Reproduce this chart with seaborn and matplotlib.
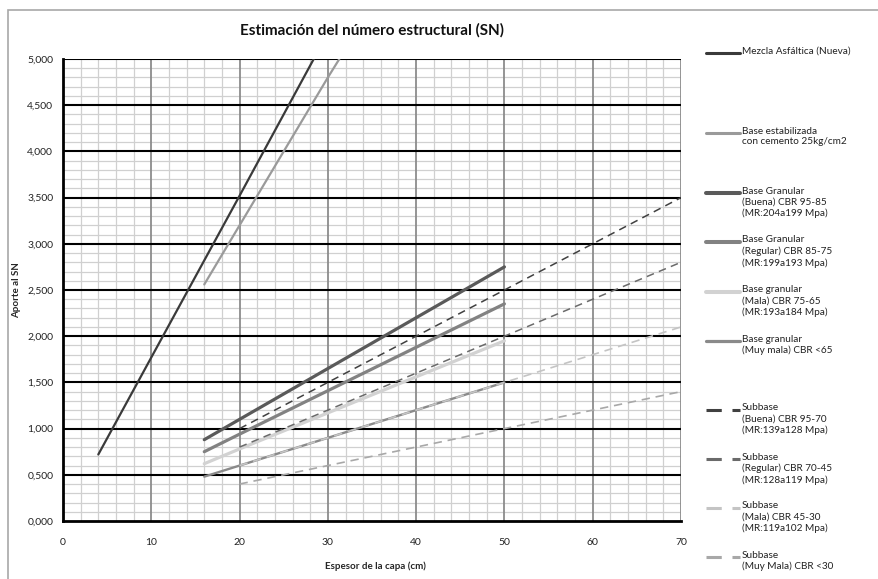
import matplotlib
matplotlib.use("Agg")
import matplotlib.pyplot as plt
import seaborn as sns
import pandas as pd
from matplotlib.ticker import MultipleLocator, FuncFormatter
from matplotlib.lines import Line2D
from matplotlib.patches import Rectangle

# ---------------- data ----------------
x_mezcla = [4, 10, 20, 28.4]
y_mezcla = [0.72, 1.77, 3.52, 5.00]

x_base_estab = [16, 20, 30, 31.3]
y_base_estab = [2.56, 3.20, 4.80, 5.00]

x_base = [16, 20, 30, 40, 50]
y_base_buena = [0.88, 1.10, 1.65, 2.20, 2.75]
y_base_regular = [0.75, 0.94, 1.41, 1.88, 2.35]
y_base_mala = [0.62, 0.78, 1.17, 1.56, 1.95]
y_base_muymala = [0.48, 0.60, 0.90, 1.20, 1.50]

x_subbase = [20, 30, 40, 50, 60, 70]
y_sub_buena = [1.0, 1.5, 2.0, 2.5, 3.0, 3.5]
y_sub_regular = [0.8, 1.2, 1.6, 2.0, 2.4, 2.8]
y_sub_mala = [0.6, 0.9, 1.2, 1.5, 1.8, 2.1]
y_sub_muymala = [0.4, 0.6, 0.8, 1.0, 1.2, 1.4]

labels = [
    "Mezcla Asfáltica (Nueva)",
    "Base estabilizada\ncon cemento 25kg/cm2",
    "Base Granular\n(Buena) CBR 95-85\n(MR:204a199 Mpa)",
    "Base Granular\n(Regular) CBR 85-75\n(MR:199a193 Mpa)",
    "Base granular\n(Mala) CBR 75-65\n(MR:193a184 Mpa)",
    "Base granular\n(Muy mala) CBR <65",
    "Subbase\n(Buena) CBR 95-70\n(MR:139a128 Mpa)",
    "Subbase\n(Regular) CBR 70-45\n(MR:128a119 Mpa)",
    "Subbase\n(Mala) CBR 45-30\n(MR:119a102 Mpa)",
    "Subbase\n(Muy Mala) CBR <30",
]

series = [
    (x_mezcla, y_mezcla),
    (x_base_estab, y_base_estab),
    (x_base, y_base_buena),
    (x_base, y_base_regular),
    (x_base, y_base_mala),
    (x_base, y_base_muymala),
    (x_subbase, y_sub_buena),
    (x_subbase, y_sub_regular),
    (x_subbase, y_sub_mala),
    (x_subbase, y_sub_muymala),
]

# ---------------- styles ----------------
colors = ["#3a3a3a", "#9a9a9a", "#5a5a5a", "#828282", "#d2d2d2", "#8a8a8a",
          "#404040", "#6a6a6a", "#c4c4c4", "#a8a8a8"]
widths = [1.6, 1.6, 2.3, 2.3, 2.3, 1.7, 1.1, 1.1, 1.2, 1.2]
styles = ["-"] * 6 + [(0, (5, 3.5))] * 4

sns.set_style("white")
plt.rcParams["font.family"] = ["Lato", "DejaVu Sans"]

W, H = 879, 579
fig = plt.figure(figsize=(W / 100, H / 100), dpi=100)
ax = fig.add_axes([63 / W, 1 - 521 / H, (681 - 63) / W, (521 - 59) / H])

for (xs, ys), c, lw, ls in zip(series, colors, widths, styles):
    df = pd.DataFrame({"x": xs, "y": ys})
    sns.lineplot(data=df, x="x", y="y", ax=ax, color=c, lw=lw,
                 linestyle=ls, legend=False, estimator=None, sort=False)

ax.set_xlim(0, 70)
ax.set_ylim(0, 5)
ax.xaxis.set_major_locator(MultipleLocator(10))
ax.xaxis.set_minor_locator(MultipleLocator(2))
ax.yaxis.set_major_locator(MultipleLocator(0.5))
ax.yaxis.set_minor_locator(MultipleLocator(0.1))
ax.yaxis.set_major_formatter(FuncFormatter(lambda v, p: f"{v:.3f}".replace(".", ",")))

# grid: minor lines below, major lines drawn on top of minors
ax.set_axisbelow(True)
ax.grid(which="minor", axis="both", color="#d0d0d0", lw=0.9)
ax.grid(which="major", visible=False)
for v in ax.get_xticks():
    if 0 < v <= 70:
        ax.axvline(v, color="#8c8c8c", lw=1.3, zorder=1.0)
for v in ax.get_yticks():
    if 0 < v <= 5:
        ax.axhline(v, color="black", lw=1.5, zorder=1.1)

for s in ["left", "bottom"]:
    ax.spines[s].set_color("black")
    ax.spines[s].set_linewidth(2.0)
    ax.spines[s].set_zorder(3)
ax.spines["top"].set_visible(False)
ax.spines["right"].set_visible(False)

ax.tick_params(which="major", direction="out", length=3, width=1.2, color="black",
               labelsize=7.5, labelcolor="#222222", pad=4)
ax.tick_params(which="minor", length=0)
ax.tick_params(axis="x", pad=9)

ax.set_xlabel("Espesor de la capa (cm)", fontsize=7, fontweight="bold")
ax.set_ylabel("Aporte al SN", fontsize=7, fontweight="bold")
ax.xaxis.set_label_coords((375 - 63) / 618, (521 - 561) / 462)
ax.yaxis.set_label_coords((21 - 63) / 618, 0.5)

fig.text(372 / W, 1 - 30 / H, "Estimación del número estructural (SN)",
         ha="center", va="center", fontsize=11, fontweight="bold", color="#111111")

# outer chart frame
fig.add_artist(Rectangle((8 / W, -0.1), 1.2, (H - 10) / H + 0.1,
                         transform=fig.transFigure, fill=False,
                         edgecolor="#a8a8a8", lw=1.2))

# legend (manual layout, like the Excel legend)
leg_y = [53, 133, 193, 242, 292, 341, 410, 459, 508, 557]
for lab, c, lw, ls, yy in zip(labels, colors, widths, styles, leg_y):
    yf = 1 - yy / H
    fig.add_artist(Line2D([706 / W, 740 / W], [yf, yf], transform=fig.transFigure,
                          color=c, lw=max(lw, 1.6) + 0.6, linestyle=ls))
    fig.text(742 / W, 1 - (yy - 6.5) / H, lab, ha="left", va="top",
             fontsize=7.2, linespacing=1.28, color="#222222")

fig.savefig("out.png", dpi=100)
